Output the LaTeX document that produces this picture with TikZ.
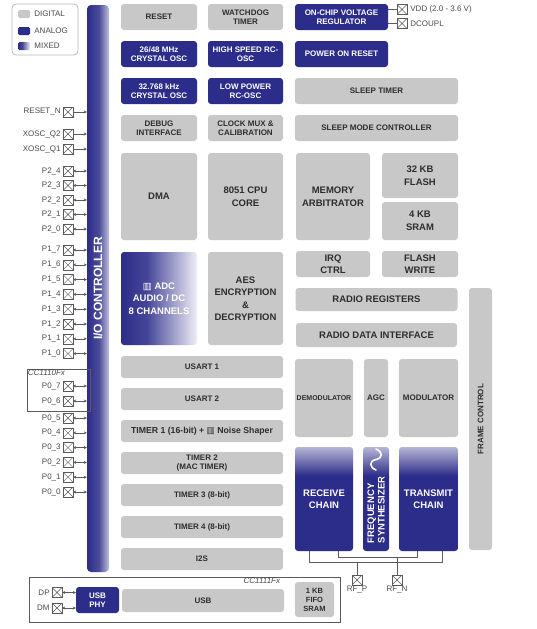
\documentclass[tikz,border=0pt]{standalone}
\usepackage{fontspec}
\setmainfont{Liberation Sans}
\newfontfamily\glyphfont{DejaVu Sans}
\usetikzlibrary{positioning,calc,arrows.meta}

\definecolor{analog}{RGB}{44,44,138}
\definecolor{digi}{RGB}{200,200,200}
\definecolor{boxtext}{RGB}{45,45,45}
\definecolor{pintext}{RGB}{75,75,75}
\definecolor{wire}{RGB}{90,90,90}

% shadings for the mixed blocks
\pgfdeclarehorizontalshading{mixedshade}{100bp}{color(0bp)=(analog); color(25bp)=(analog); color(42bp)=(analog!88!white); color(75bp)=(analog!8!white); color(100bp)=(analog!8!white)}
\pgfdeclarehorizontalshading{ioshade}{100bp}{color(0bp)=(analog); color(25bp)=(analog); color(52bp)=(analog!85!white); color(75bp)=(analog!30!white); color(100bp)=(analog!30!white)}
\pgfdeclareverticalshading{chainshade}{100bp}{color(0bp)=(analog); color(25bp)=(analog); color(61bp)=(analog); color(75bp)=(analog!35!white); color(100bp)=(analog!35!white)}

\begin{document}
\begin{tikzpicture}[x=1pt, y=-1pt,
        wh/.style 2 args={minimum width=#1, minimum height=#2},
        blk/.style={rectangle, rounded corners=3pt, inner sep=1pt, align=center, font=\fontsize{8}{9}\selectfont\bfseries},
        dig/.style={blk, fill=digi, text=boxtext},
        ana/.style={blk, fill=analog, text=white},
        big/.style={font=\fontsize{9.5}{12.5}\selectfont\bfseries},
        chain/.style={blk, shade, shading=chainshade, text=white, font=\fontsize{9.5}{12.5}\selectfont\bfseries},
        pad/.style={draw=wire, fill=white, minimum size=10pt, inner sep=0pt,
            path picture={\draw[wire] (path picture bounding box.north west) -- (path picture bounding box.south east)
                (path picture bounding box.south west) -- (path picture bounding box.north east);}},
        pin/.style={font=\fontsize{8}{9}\selectfont, text=pintext, inner sep=1pt},
        swatch/.style={rounded corners=1.5pt, minimum width=12, minimum height=8, inner sep=0pt},
        sig/.style={draw=wire, line width=0.5pt, >={Stealth[length=3pt,width=3pt]}}]

    \path[use as bounding box, fill=white] (0,0) rectangle (536,629);

    % legend
    \node[draw=gray!55, line width=0.8pt, rounded corners=4pt, wh={66}{51}] (legend) at (45,29.5) {};
    \node[swatch, fill=digi] (swdig) at (24,14) {};
    \node[swatch, fill=analog] (swana) at (24,31) {};
    \node[swatch, shade, shading=mixedshade] (swmix) at (24,46) {};
    \node[pin, right=3pt of swdig] {DIGITAL};
    \node[pin, right=3pt of swana] {ANALOG};
    \node[pin, right=3pt of swmix] {MIXED};

    % I/O controller
    \node[shade, shading=ioshade, rounded corners=4pt, wh={22}{567}, inner sep=0pt] (io) at (98,288.5) {};
    \node[rotate=90, text=white, font=\fontsize{12}{12}\selectfont\bfseries] at (io.center) {I/O CONTROLLER};

    % clocks, reset and power
    \node[dig, wh={76}{26}] (reset) at (159,17) {RESET};
    \node[dig, wh={75}{26}] (wdt) at (245.5,17) {WATCHDOG\\TIMER};
    \node[ana, wh={93}{26}] (vreg) at (341.5,17) {ON-CHIP VOLTAGE\\REGULATOR};
    \node[ana, wh={76}{26}] (xosc) at (159,54) {26/48 MHz\\CRYSTAL OSC};
    \node[ana, wh={75}{26}] (hsrc) at (245.5,54) {HIGH SPEED RC-\\OSC};
    \node[ana, wh={93}{26}] (por) at (341.5,54) {POWER ON RESET};
    \node[ana, wh={76}{26}] (xosc32) at (159,91) {32.768 kHz\\CRYSTAL OSC};
    \node[ana, wh={75}{26}] (lprc) at (245.5,91) {LOW POWER\\RC-OSC};
    \node[dig, wh={163}{26}] (slptmr) at (376.5,91) {SLEEP TIMER};
    \node[dig, wh={76}{26}] (debug) at (159,128) {DEBUG\\INTERFACE};
    \node[dig, wh={75}{26}] (clkmux) at (245.5,128) {CLOCK MUX \&\\CALIBRATION};
    \node[dig, wh={163}{26}] (slpctl) at (376.5,128) {SLEEP MODE CONTROLLER};

    \node[pad] (vdd) at (402,9.5) {};
    \node[pad] (dcoupl) at (402,23.5) {};
    \draw[sig] (vdd.west -| vreg.east) -- (vdd.west);
    \draw[sig] (dcoupl.west -| vreg.east) -- (dcoupl.west);
    \node[pin, right=2pt of vdd] {VDD (2.0 - 3.6 V)};
    \node[pin, right=2pt of dcoupl] {DCOUPL};

    % core
    \node[dig, big, wh={76}{87}] (dma) at (159,196.5) {DMA};
    \node[dig, big, wh={75}{87}] (cpu) at (245.5,196.5) {8051 CPU\\CORE};
    \node[dig, big, wh={74}{87}] (memarb) at (333,196.5) {MEMORY\\ARBITRATOR};
    \node[dig, big, wh={76}{45}] (flash) at (420,175.5) {32 KB\\FLASH};
    \node[dig, big, wh={76}{38}] (sram) at (420,221) {4 KB\\SRAM};
    \node[blk, big, shade, shading=mixedshade, text=white, wh={76}{93}] (adc) at (159,298.5) {{\glyphfont ▥} ADC\\AUDIO / DC\\8 CHANNELS};
    \node[dig, big, wh={75}{93}] (aes) at (245.5,298.5) {AES\\ENCRYPTION\\\&\\DECRYPTION};
    \node[dig, big, wh={74}{26}] (irq) at (333,264) {IRQ\\CTRL};
    \node[dig, big, wh={76}{26}] (fwrite) at (420,264) {FLASH\\WRITE};
    \node[dig, big, wh={162}{23}] (radreg) at (376.5,299.5) {RADIO REGISTERS};
    \node[dig, big, wh={161}{24}] (radif) at (376.5,335) {RADIO DATA INTERFACE};
    \node[dig, rotate=90, wh={262}{23}] (frame) at (480.5,419) {FRAME CONTROL};

    % peripherals
    \node[dig, wh={162}{22}] (usart1) at (202,367) {USART 1};
    \node[dig, wh={162}{22}] (usart2) at (202,399) {USART 2};
    \node[dig, wh={162}{22}, font=\fontsize{8.7}{9}\selectfont\bfseries] (timer1) at (202,431) {TIMER 1 (16-bit) + {\glyphfont ▥} Noise Shaper};
    \node[dig, wh={162}{22}] (timer2) at (202,463) {TIMER 2\\(MAC TIMER)};
    \node[dig, wh={162}{22}] (timer3) at (202,495) {TIMER 3 (8-bit)};
    \node[dig, wh={162}{22}] (timer4) at (202,527) {TIMER 4 (8-bit)};
    \node[dig, wh={162}{22}] (i2s) at (202,559) {I2S};

    % radio
    \node[dig, wh={58}{78}, font=\fontsize{7}{8}\selectfont\bfseries] (demod) at (324,398) {DEMODULATOR};
    \node[dig, wh={24}{78}] (agc) at (376,398) {AGC};
    \node[dig, wh={59}{78}] (mod) at (428.5,398) {MODULATOR};
    \node[chain, wh={58}{104}] (rx) at (324,499) {RECEIVE\\CHAIN};
    \node[chain, wh={26}{104}] (synth) at (376,499) {};
    \node[chain, wh={59}{104}] (tx) at (428.5,499) {TRANSMIT\\CHAIN};
    \node[rotate=90, align=left, inner sep=0pt, text=white, font=\fontsize{9.5}{10.5}\selectfont\bfseries] (synthtxt) at (376,510) {FREQUENCY\\SYNTHESIZER};
    \draw[white, line width=1.6pt, line cap=round] (376,449) .. controls (383,452) and (383,458) .. (376,459.5) .. controls (369,461) and (369,467) .. (376,470);

    \node[pad] (rfp) at (357,580) {};
    \node[pad] (rfn) at (397,580) {};
    \node[pin, below=0pt of rfp] {RF\_P};
    \node[pin, below=0pt of rfn] {RF\_N};
    \draw[sig] ([xshift=14pt]rx.south west) -- ++(0,11) coordinate (busp) -| ([xshift=-16pt]tx.south east);
    \draw[sig] ([xshift=-15pt]rx.south east) -- ++(0,6) coordinate (busn) -| ([xshift=18pt]tx.south west);
    \draw[sig] (rfp.north) -- (rfp.north |- busp);
    \draw[sig] (rfn.north) -- (rfn.north |- busn);

    % pins
    \foreach \lbl/\y [count=\i] in {RESET\_N/112, XOSC\_Q2/134, XOSC\_Q1/149} {
        \node[pad] (in\i) at (68,\y) {};
        \node[pin, left=1pt of in\i] {\lbl};
        \draw[sig, ->] (in\i.east) -- (in\i.east -| io.west);
    }
    \foreach \a/\b/\y in {2/4/171, 2/3/185.5, 2/2/200, 2/1/214.5, 2/0/229,
            1/7/250, 1/6/264.8, 1/5/279.6, 1/4/294.4, 1/3/309.2, 1/2/324, 1/1/338.8, 1/0/353.6,
            0/7/386, 0/6/401, 0/5/418, 0/4/432.8, 0/3/447.6, 0/2/462.4, 0/1/477.2, 0/0/492} {
        \node[pad] (p\a\b) at (68,\y) {};
        \node[pin, left=1pt of p\a\b] {P\a\_\b};
        \draw[sig, <->] (p\a\b.east) -- (p\a\b.east -| io.west);
    }

    \node[draw=wire, line width=0.6pt, wh={63}{42}] (cc1110) at (58.5,390) {};
    \node[pin, anchor=north west, font=\fontsize{8}{9}\selectfont\itshape] at (cc1110.north west) {CC1110Fx};

    % usb part
    \node[draw=wire, line width=0.6pt, wh={311}{45}] (cc1111) at (184.5,599.5) {};
    \node[pin, anchor=north east, font=\fontsize{8}{9}\selectfont\itshape] at ([xshift=-59pt]cc1111.north east) {CC1111Fx};
    \node[ana, wh={43}{26}] (usbphy) at (97.5,600) {USB\\PHY};
    \node[dig, wh={162}{23}] (usb) at (203,600.5) {USB};
    \node[dig, wh={39}{35}, font=\fontsize{7.5}{9}\selectfont\bfseries] (fifo) at (314.5,599.5) {1 KB\\FIFO\\SRAM};
    \node[pad] (dp) at (57,592.5) {};
    \node[pad] (dm) at (57,608) {};
    \node[pin, left=1pt of dp] {DP};
    \node[pin, left=1pt of dm] {DM};
    \draw[sig, <->] (dp.east) -- (dp.east -| usbphy.west);
    \draw[sig, <->] (dm.east) -- (dm.east -| usbphy.west);

\end{tikzpicture}
\end{document}
